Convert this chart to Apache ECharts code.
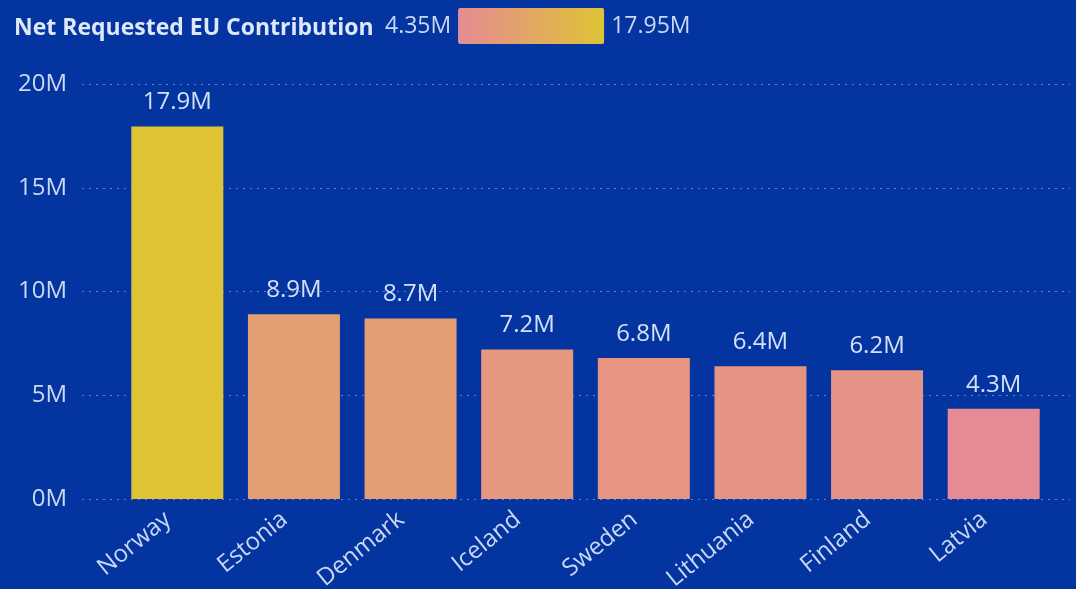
<!DOCTYPE html>
<html>
<head>
<meta charset="utf-8">
<script src="https://cdn.jsdelivr.net/npm/echarts@6/dist/echarts.min.js"></script>
<style>
  html, body { margin: 0; padding: 0; background: #0434a0; }
  #chart { width: 1076px; height: 589px; }
</style>
</head>
<body>
<div id="chart"></div>
<script>
// Net requested EU contribution per country (EUR)
const countries = ['Norway', 'Estonia', 'Denmark', 'Iceland', 'Sweden', 'Lithuania', 'Finland', 'Latvia'];
const contributions = [17949000, 8900000, 8700000, 7200000, 6800000, 6400000, 6200000, 4349000];
const yTicks = [0, 5000000, 10000000, 15000000, 20000000];

const minVal = Math.min(...contributions);
const maxVal = Math.max(...contributions);
const fontFam = '"Open Sans", "Noto Sans", sans-serif';
const textCol = '#c9d8f4';

function fmtM(v, d) {
  return (Math.floor(v / 1e6 * Math.pow(10, d) + 1e-9) / Math.pow(10, d)).toFixed(d) + 'M';
}

const chart = echarts.init(document.getElementById('chart'));
chart.setOption({
  backgroundColor: '#0434a0',
  animation: false,
  title: {
    text: 'Net Requested EU Contribution',
    left: 14, top: 17, padding: 0,
    textStyle: { color: '#dfe8fb', fontSize: 23, fontWeight: 'bold', fontFamily: fontFam }
  },
  visualMap: {
    type: 'continuous',
    seriesIndex: 0,
    dimension: 1,
    min: minVal,
    max: maxVal,
    orient: 'horizontal',
    left: 385, top: 8,
    padding: 0,
    itemWidth: 36,
    itemHeight: 146,
    textGap: 7,
    calculable: false,
    text: [fmtM(maxVal + 1000, 2), fmtM(minVal + 1000, 2)],
    textStyle: { color: textCol, fontSize: 23, fontFamily: fontFam, padding: [9, 0, 0, 0] },
    inRange: { color: ['#e68b93', '#dfc334'] }
  },
  grid: [
    { left: 82, right: 6, top: 84, bottom: 90, outerBoundsMode: 'none', containLabel: false },
    { left: 119, right: 24, top: 84, bottom: 90, outerBoundsMode: 'none', containLabel: false }
  ],
  xAxis: [
    { type: 'category', gridIndex: 0, data: [''], show: false },
    {
      type: 'category', gridIndex: 1, data: countries,
      axisLine: { show: false }, axisTick: { show: false },
      axisLabel: {
        rotate: 39, margin: 10, color: textCol, fontSize: 24, fontFamily: fontFam, interval: 0,
        padding: [0, 12, 0, 0]
      }
    }
  ],
  yAxis: [
    {
      type: 'value', gridIndex: 0, min: yTicks[0], max: yTicks[yTicks.length - 1], interval: 5000000,
      axisLine: { show: false }, axisTick: { show: false },
      axisLabel: {
        margin: 15, color: textCol, fontSize: 24, fontFamily: fontFam,
        formatter: v => (v / 1e6) + 'M'
      },
      splitLine: { lineStyle: { color: 'rgba(170,195,240,0.55)', type: [2, 5], width: 1.2 } }
    },
    {
      type: 'value', gridIndex: 1, min: yTicks[0], max: yTicks[yTicks.length - 1], interval: 5000000,
      show: false, splitLine: { show: false }
    }
  ],
  series: [{
    type: 'bar',
    xAxisIndex: 1, yAxisIndex: 1,
    barWidth: 92,
    data: contributions,
    label: {
      show: true, position: 'top', distance: 12,
      color: '#d3e0f8', fontSize: 24, fontFamily: fontFam,
      formatter: p => fmtM(p.value, 1)
    }
  }]
});
</script>
</body>
</html>
